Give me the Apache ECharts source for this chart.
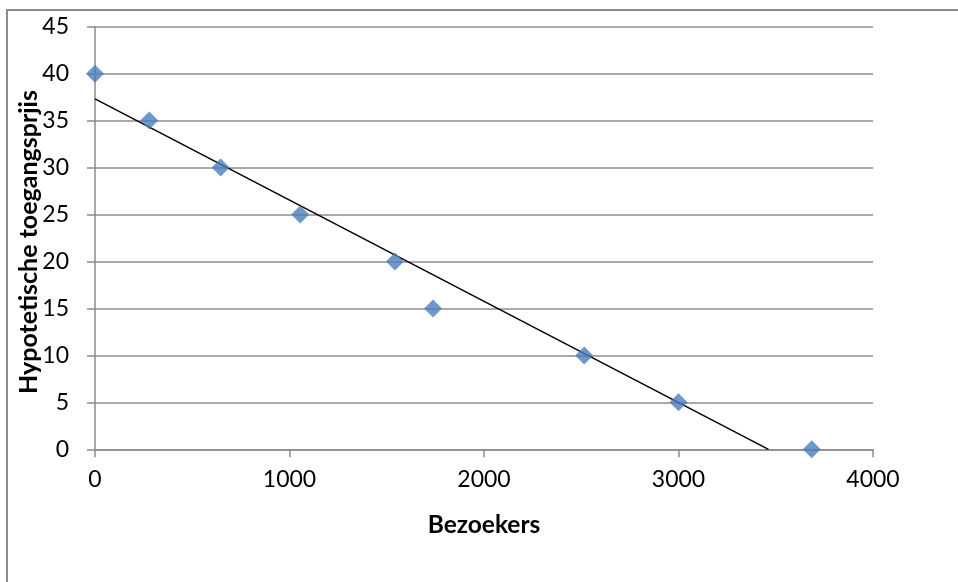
<!DOCTYPE html>
<html>
<head>
<meta charset="utf-8">
<script src="https://cdn.jsdelivr.net/npm/echarts@6/dist/echarts.min.js"></script>
<style>
  html, body { margin: 0; padding: 0; background: #fff; }
  #chart { width: 958px; height: 582px; }
</style>
</head>
<body>
<div id="chart"></div>
<script>
// Visitors at each hypothetical entrance price
var visitors = [0, 279, 646, 1055, 1542, 1738, 2515, 3000, 3685];
var prices = [40, 35, 30, 25, 20, 15, 10, 5, 0];

var xTicks = [0, 1000, 2000, 3000, 4000];
var yTicks = [0, 5, 10, 15, 20, 25, 30, 35, 40, 45];

var xTitle = 'Bezoekers';
var yTitle = 'Hypotetische toegangsprjis';

// Least-squares trend line through the points
function linearFit(xs, ys) {
  var n = xs.length, mx = 0, my = 0;
  for (var i = 0; i < n; i++) { mx += xs[i]; my += ys[i]; }
  mx /= n; my /= n;
  var sxy = 0, sxx = 0;
  for (var j = 0; j < n; j++) {
    sxy += (xs[j] - mx) * (ys[j] - my);
    sxx += (xs[j] - mx) * (xs[j] - mx);
  }
  var slope = sxy / sxx;
  return { slope: slope, intercept: my - slope * mx };
}
var fit = linearFit(visitors, prices);
var xEnd = -fit.intercept / fit.slope;
var trend = [[0, fit.intercept], [xEnd, 0]];

var points = visitors.map(function (v, i) { return [v, prices[i]]; });

var gridColor = '#8c8c8c';
var font = 'Lato, "Open Sans", sans-serif';

var chart = echarts.init(document.getElementById('chart'));
chart.setOption({
  animation: false,
  graphic: [{
    type: 'rect',
    shape: { x: 7, y: 10, width: 1000, height: 1000 },
    style: { fill: 'none', stroke: '#8c8c8c', lineWidth: 2 },
    silent: true
  }, {
    // vertical axis title, reading bottom to top
    type: 'text',
    x: 29, y: 242,
    rotation: Math.PI / 2,
    style: {
      text: yTitle,
      font: 'bold 25px ' + font,
      fill: '#000',
      align: 'center',
      verticalAlign: 'middle'
    },
    silent: true
  }],
  grid: { left: 95, right: 85, top: 26.7, bottom: 132.7, containLabel: false },
  xAxis: {
    type: 'value',
    min: xTicks[0], max: xTicks[xTicks.length - 1], interval: 1000,
    name: xTitle,
    nameLocation: 'middle',
    nameGap: 63,
    nameTextStyle: { fontFamily: font, fontWeight: 'bold', fontSize: 24.5, color: '#000' },
    axisLine: { show: true, onZero: false, lineStyle: { color: gridColor, width: 1.5 } },
    axisTick: { show: true, inside: false, length: 8, lineStyle: { color: gridColor, width: 1.5 } },
    axisLabel: { fontFamily: font, fontSize: 23, color: '#000', margin: 19,
      formatter: function (v) { return String(v); } },
    splitLine: { show: false }
  },
  yAxis: {
    type: 'value',
    min: yTicks[0], max: yTicks[yTicks.length - 1], interval: 5,
    axisLine: { show: true, onZero: false, lineStyle: { color: gridColor, width: 1.5 } },
    axisTick: { show: true, inside: false, length: 8, lineStyle: { color: gridColor, width: 1.5 } },
    axisLabel: { fontFamily: font, fontSize: 23, color: '#000', margin: 26,
      formatter: function (v) { return String(v); } },
    splitLine: { show: true, lineStyle: { color: gridColor, width: 1.5 } }
  },
  series: [{
    type: 'line',
    data: trend,
    symbol: 'none',
    lineStyle: { color: '#000', width: 1.5 },
    silent: true,
    z: 2
  }, {
    type: 'scatter',
    data: points,
    symbol: 'diamond',
    symbolSize: 18,
    itemStyle: { color: '#4a7ebb' },
    z: 3
  }]
});
</script>
</body>
</html>
